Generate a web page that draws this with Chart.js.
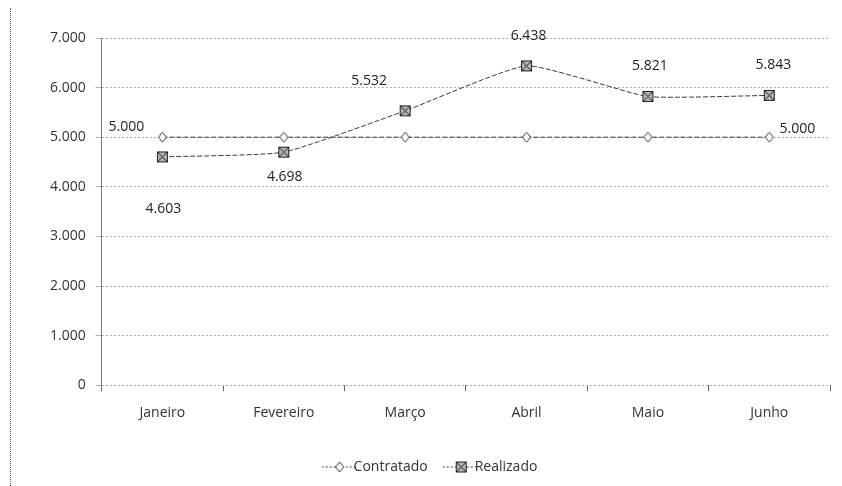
<!DOCTYPE html>
<html>
<head>
<meta charset="utf-8">
<script src="https://cdn.jsdelivr.net/npm/chart.js@4.4.0/dist/chart.umd.min.js"></script>
<style>
  html, body { margin: 0; padding: 0; background: #fff; }
  #wrap { position: relative; width: 842px; height: 486px; }
  #wrap::before {
    content: ""; position: absolute; left: 10px; top: 8px; bottom: 0;
    border-left: 1px dotted #555;
  }
</style>
</head>
<body>
<div id="wrap"><canvas id="grafico" width="842" height="486"></canvas></div>
<script>
// dados
const meses = ["Janeiro", "Fevereiro", "Março", "Abril", "Maio", "Junho"];
const contratado = [5000, 5000, 5000, 5000, 5000, 5000];
const realizado = [4603, 4698, 5532, 6438, 5821, 5843];
const yTicks = [0, 1000, 2000, 3000, 4000, 5000, 6000, 7000];

// rótulos mostrados (null = sem rótulo)
const rotContratado = [5000, null, null, null, null, 5000];
const rotRealizado = [4603, 4698, 5532, 6438, 5821, 5843];

const corLinha = "#3a3a3a";
const fonte = "'Open Sans', 'Liberation Sans', sans-serif";
const tamFonte = 14;

function formatar(v) {
  return String(v).replace(/\B(?=(\d{3})+(?!\d))/g, ".");
}

// marcador losango (Contratado)
function marcadorLosango(comLinha) {
  const c = document.createElement("canvas");
  c.width = comLinha ? 36 : 11;
  c.height = 12;
  const g = c.getContext("2d");
  const cx = c.width / 2;
  if (comLinha) {
    g.strokeStyle = corLinha;
    g.setLineDash([2, 2]);
    g.beginPath(); g.moveTo(0, 6); g.lineTo(36, 6); g.stroke();
    g.setLineDash([]);
  }
  g.fillStyle = "#fff";
  g.strokeStyle = corLinha;
  g.lineWidth = 1;
  g.beginPath();
  g.moveTo(cx, 1); g.lineTo(cx + 4, 6); g.lineTo(cx, 11); g.lineTo(cx - 4, 6);
  g.closePath(); g.fill(); g.stroke();
  return c;
}

// marcador quadrado com X (Realizado)
function marcadorQuadrado(comLinha) {
  const c = document.createElement("canvas");
  c.width = comLinha ? 36 : 13;
  c.height = 13;
  const g = c.getContext("2d");
  const x0 = Math.round(c.width / 2 - 5.5);
  if (comLinha) {
    g.strokeStyle = corLinha;
    g.setLineDash([2, 2]);
    g.beginPath(); g.moveTo(0, 6.5); g.lineTo(36, 6.5); g.stroke();
    g.setLineDash([]);
  }
  g.fillStyle = "#b5b5b5";
  g.fillRect(x0, 1, 11, 11);
  g.strokeStyle = "#222";
  g.lineWidth = 1;
  g.strokeRect(x0 + 0.5, 1.5, 10, 10);
  g.beginPath();
  g.moveTo(x0 + 1, 2); g.lineTo(x0 + 10, 11);
  g.moveTo(x0 + 10, 2); g.lineTo(x0 + 1, 11);
  g.stroke();
  return c;
}

// desenha os valores ao lado dos pontos
const rotulosPlugin = {
  id: "rotulos",
  afterDatasetsDraw(chart) {
    const ctx = chart.ctx;
    ctx.save();
    ctx.font = tamFonte + "px " + fonte;
    ctx.fillStyle = "#222";
    ctx.textBaseline = "middle";
    ctx.textAlign = "center";
    const listas = [rotContratado, rotRealizado];
    // deslocamentos [dx, dy] por ponto
    const desloc = [
      [[-36, -10], null, null, null, null, [28, -8]],
      [[1, 52], [1, 25], [-36, -30], [2, -30], [2, -30], [4, -30]]
    ];
    listas.forEach((lista, d) => {
      const meta = chart.getDatasetMeta(d);
      lista.forEach((v, i) => {
        if (v === null) return;
        const p = meta.data[i];
        const [dx, dy] = desloc[d][i];
        ctx.fillText(formatar(v), p.x + dx, p.y + dy);
      });
    });
    ctx.restore();
  }
};

new Chart(document.getElementById("grafico"), {
  type: "line",
  data: {
    labels: meses,
    datasets: [
      {
        label: "Contratado",
        data: contratado,
        borderColor: corLinha,
        borderWidth: 1,
        borderDash: [5, 2],
        pointStyle: marcadorLosango(false),
        legendStyle: marcadorLosango(true),
        tension: 0
      },
      {
        label: "Realizado",
        data: realizado,
        borderColor: corLinha,
        borderWidth: 1,
        borderDash: [5, 2],
        pointStyle: marcadorQuadrado(false),
        legendStyle: marcadorQuadrado(true),
        tension: 0.15
      }
    ]
  },
  options: {
    responsive: false,
    animation: false,
    layout: { padding: { left: 40, right: 12, top: 38, bottom: 2 } },
    scales: {
      x: {
        offset: true,
        grid: {
          offset: true,
          drawOnChartArea: false,
          tickLength: 6,
          color: "#666"
        },
        border: { display: false },
        ticks: { color: "#333", font: { family: fonte, size: tamFonte }, padding: 13 }
      },
      y: {
        min: 0,
        max: 7000,
        afterBuildTicks(axis) { axis.ticks = yTicks.map(v => ({ value: v })); },
        grid: { color: "#b0b0b0", tickLength: 6 },
        border: { color: "#777", dash: [2, 2] },
        ticks: {
          color: "#333",
          font: { family: fonte, size: tamFonte },
          padding: 10,
          callback: v => formatar(v)
        }
      }
    },
    plugins: {
      tooltip: { enabled: false },
      legend: {
        position: "bottom",
        labels: {
          color: "#333",
          font: { family: fonte, size: tamFonte },
          usePointStyle: true,
          padding: 26,
          generateLabels(chart) {
            return chart.data.datasets.map((ds, i) => ({
              text: ds.label,
              pointStyle: ds.legendStyle,
              fontColor: "#333",
              lineWidth: 0,
              hidden: false,
              datasetIndex: i
            }));
          }
        }
      }
    }
  },
  plugins: [rotulosPlugin]
});
</script>
</body>
</html>
